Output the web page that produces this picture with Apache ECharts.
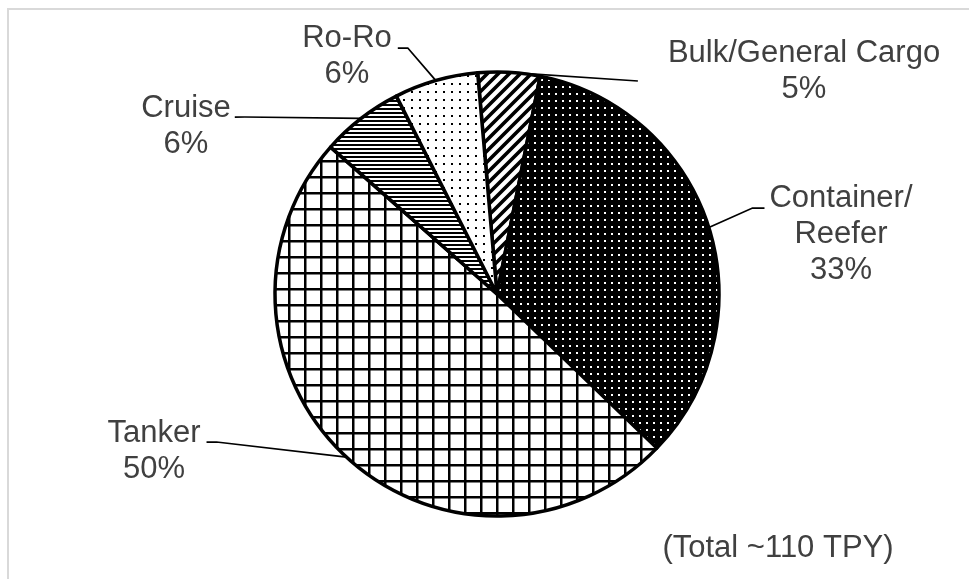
<!DOCTYPE html>
<html><head><meta charset="utf-8">
<script src="https://cdn.jsdelivr.net/npm/echarts@6/dist/echarts.min.js"></script>
<style>html,body{margin:0;padding:0;background:#fff}#c{width:969px;height:579px}</style>
</head><body><div id="c"></div>
<script>
// ---- data ----
const categories = ['Bulk/General Cargo', 'Container/Reefer', 'Tanker', 'Cruise', 'Ro-Ro'];
const labelNames = ['Bulk/General Cargo', 'Container/\nReefer', 'Tanker', 'Cruise', 'Ro-Ro'];
const shares = [4.5, 34.1, 49.3, 6.0, 6.1];          // slice sizes as drawn
const percentLabels = ['5%', '33%', '50%', '6%', '6%']; // printed labels
const totalNote = '(Total ~110 TPY)';

// ---- patterns ----
function makeTile(w, h, draw) {
  const c = document.createElement('canvas');
  c.width = w; c.height = h;
  const g = c.getContext('2d');
  draw(g, w, h);
  return c;
}
const diagTile = makeTile(11, 11, (g, w, h) => {
  g.fillStyle = '#fff'; g.fillRect(0, 0, w, h);
  g.strokeStyle = '#000'; g.lineWidth = 3.6; g.beginPath();
  [0, w, 2 * w].forEach(c => { g.moveTo(c + 3, -3); g.lineTo(c - w - 3, w + 3); });
  g.stroke();
});
const darkDotTile = makeTile(7, 7, (g, w, h) => {
  g.fillStyle = '#000'; g.fillRect(0, 0, w, h);
  g.fillStyle = '#fff'; g.fillRect(2, 2, 2, 2);
});
const gridTile = makeTile(16, 16, (g, w, h) => {
  g.fillStyle = '#fff'; g.fillRect(0, 0, w, h);
  g.fillStyle = '#000'; g.fillRect(0, 0, w, 2.5); g.fillRect(0, 0, 2.5, h);
});
const hLineTile = makeTile(4, 4, (g, w, h) => {
  g.fillStyle = '#fff'; g.fillRect(0, 0, w, h);
  g.fillStyle = '#000'; g.fillRect(0, 0, w, 2);
});
const lightDotTile = makeTile(8, 8, (g, w, h) => {
  g.fillStyle = '#fff'; g.fillRect(0, 0, w, h);
  g.fillStyle = '#000'; g.fillRect(3, 3, 2, 2);
});
const fills = [diagTile, darkDotTile, gridTile, hLineTile, lightDotTile]
  .map(t => ({ image: t, repeat: 'repeat' }));

// ---- label placement (text center x, first-line baseline y, leader attachment) ----
const labelSpots = [
  { cx: 804, base: 62, side: 'left', gap: 30, bend: 0, dy: 19 },
  { cx: 841, base: 207, side: 'left', gap: 5, bend: 12, dy: 1 },
  { cx: 154, base: 442, side: 'right', gap: 6, bend: 10, dy: 0 },
  { cx: 186, base: 117, side: 'right', gap: 4, bend: 10, dy: 0 },
  { cx: 347, base: 47, side: 'right', gap: 6, bend: 10, dy: 1 }
];
const FONT = '"Liberation Sans", Arial, sans-serif';
const FONT_SIZE = 31, LINE_H = 36;
const BASE_OFF = LINE_H / 2 + 0.3465 * FONT_SIZE - 2;

const chart = echarts.init(document.getElementById('c'), null, { renderer: 'canvas' });
chart.setOption({
  animation: false,
  backgroundColor: '#fff',
  graphic: [
    { type: 'polyline', shape: { points: [[8, 579], [8, 9], [969, 9]] },
      style: { stroke: '#d9d9d9', lineWidth: 2, fill: null }, silent: true },
    { type: 'text', x: 778, y: 548, silent: true,
      style: { text: totalNote, font: FONT_SIZE + 'px ' + FONT, fill: '#404040',
               textAlign: 'center', textVerticalAlign: 'middle' } }
  ],
  series: [{
    type: 'pie',
    center: [497, 294],
    radius: 222,
    startAngle: 95,
    clockwise: true,
    avoidLabelOverlap: false,
    silent: true,
    minShowLabelAngle: 0,
    itemStyle: { borderColor: '#000', borderWidth: 3.5 },
    emphasis: { disabled: true },
    label: {
      show: true, position: 'outside',
      fontFamily: FONT, fontSize: FONT_SIZE, lineHeight: LINE_H, color: '#404040',
      formatter: p => labelNames[p.dataIndex] + '\n' + percentLabels[p.dataIndex]
    },
    labelLine: { show: true, length: 15, length2: 10, lineStyle: { color: '#000', width: 1.75 } },
    labelLayout: function (p) {
      const s = labelSpots[p.dataIndex];
      const w = p.labelRect.width;
      const edge = p.labelLinePoints[0];
      const endX = s.side === 'left' ? s.cx - w / 2 - s.gap : s.cx + w / 2 + s.gap;
      const endY = s.base + s.dy;
      const bendX = s.side === 'left' ? endX - s.bend : endX + s.bend;
      return {
        x: s.cx, y: s.base - BASE_OFF, align: 'center', verticalAlign: 'top',
        labelLinePoints: [[edge[0], edge[1]], [bendX, endY], [endX, endY]]
      };
    },
    data: categories.map((n, i) => ({ name: n, value: shares[i], itemStyle: { color: fills[i] } }))
  }]
});
</script></body></html>
